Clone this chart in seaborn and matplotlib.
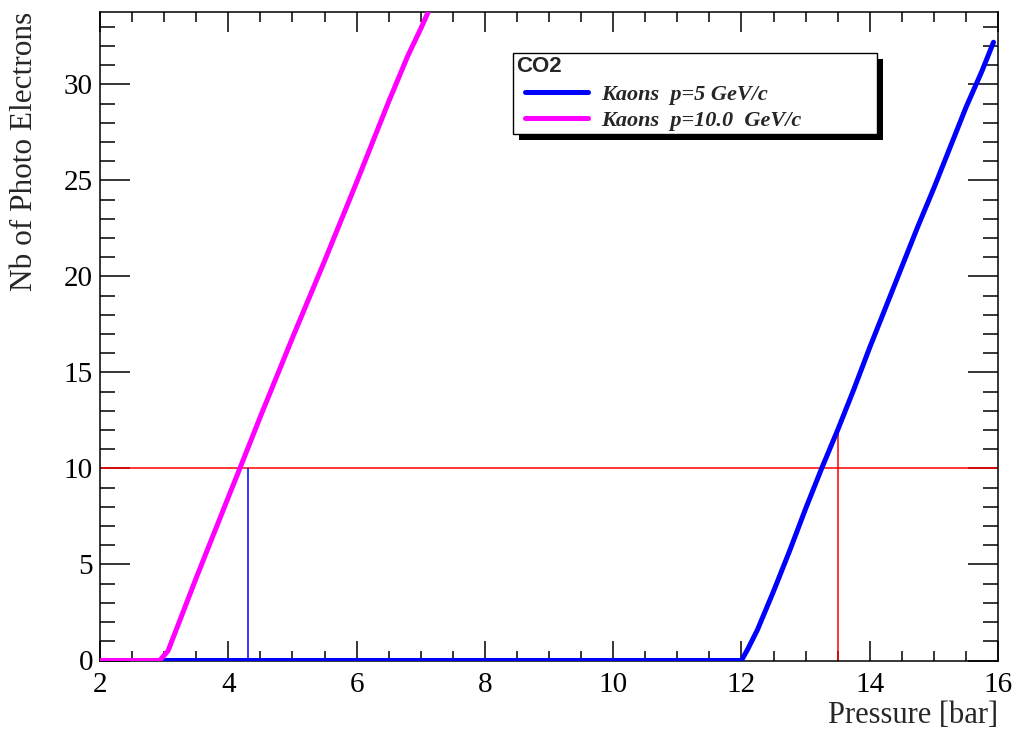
import numpy as np
import pandas as pd
import seaborn as sns
import matplotlib.pyplot as plt
from matplotlib.patches import Rectangle
from matplotlib.lines import Line2D
from matplotlib.legend_handler import HandlerLine2D
from matplotlib.transforms import IdentityTransform
from matplotlib.ticker import MultipleLocator

# curves
blue_p = [2.0, 12.0, 12.1, 12.25, 12.5, 12.75, 13.0, 13.25, 13.5, 13.75, 14.0,
          14.25, 14.5, 14.75, 15.0, 15.25, 15.5, 15.75, 15.93]
blue_n = [0.0, 0.0, 0.6, 1.6, 3.6, 5.7, 7.9, 10.0, 12.0, 14.1, 16.3,
          18.4, 20.5, 22.6, 24.6, 26.7, 28.8, 30.7, 32.2]
magenta_p = [2.0, 2.93, 3.06, 3.2, 3.5, 4.0, 4.18, 4.5, 5.0, 5.5, 6.0, 6.5, 6.8, 7.0, 7.12]
magenta_n = [0.0, 0.0, 0.5, 1.7, 4.3, 8.5, 10.0, 12.7, 16.8, 20.8, 24.9, 29.1, 31.5, 32.9, 33.8]

labels = ['Kaons  p=5 GeV/c', 'Kaons  p=10.0  GeV/c']
legend_title = 'CO2'

# threshold line and where the curves cross it
threshold = 10
mark_p = [4.3, 13.5]
mark_top = [10, 12]
mark_colors = ['#0000ff', '#ff0000']

df_blue = pd.DataFrame({'Pressure': blue_p, 'Npe': blue_n})
df_mag = pd.DataFrame({'Pressure': magenta_p, 'Npe': magenta_n})

sns.set_style('ticks')
plt.rcParams['font.family'] = ['Liberation Serif', 'DejaVu Serif']

fig = plt.figure(figsize=(10.16, 7.29), dpi=100)
ax = fig.add_axes([100 / 1016, 68.5 / 729, 898 / 1016, 649 / 729])

sns.lineplot(x='Pressure', y='Npe', data=df_blue, color='#0000ff', linewidth=3.6,
             label=labels[0], estimator=None, ax=ax, zorder=3)
sns.lineplot(x='Pressure', y='Npe', data=df_mag, color='#ff00ff', linewidth=3.6,
             label=labels[1], estimator=None, ax=ax, zorder=3)

ax.hlines(threshold, 2, 16, color='#ff0000', linewidth=1.1, zorder=2)
for p, top, c in zip(mark_p, mark_top, mark_colors):
    ax.vlines(p, 0, top, color=c, linewidth=1.1, zorder=2)

ax.set_xlim(2, 16)
ax.set_ylim(0, 33.8)
ax.xaxis.set_major_locator(MultipleLocator(2))
ax.xaxis.set_minor_locator(MultipleLocator(0.5))
ax.yaxis.set_major_locator(MultipleLocator(5))
ax.yaxis.set_minor_locator(MultipleLocator(1))

ax.tick_params(which='both', direction='in', top=True, right=True, width=1.1,
               labelsize=21, colors='black')
ax.tick_params(axis='y', which='major', length=21.6, pad=5)
ax.tick_params(axis='y', which='minor', length=10.8)
ax.tick_params(axis='x', which='major', length=14.4, pad=8)
ax.tick_params(axis='x', which='minor', length=7.2)
for s in ax.spines.values():
    s.set_linewidth(1.1)
    s.set_color('black')

ax.set_xlabel('Pressure [bar]', fontsize=22, loc='right')
ax.set_ylabel('Nb of Photo Electrons', fontsize=22.5, loc='top')
ax.xaxis.set_label_coords(1.0, -0.063)
ax.yaxis.set_label_coords(-0.068, 1.0)

leg = ax.legend(loc='upper left', bbox_to_anchor=(513 / 1016, (729 - 134) / 729, 364 / 1016, 81 / 729),
                bbox_transform=fig.transFigure, mode='expand', borderaxespad=0,
                title=legend_title, alignment='left',
                title_fontproperties={'family': 'Liberation Sans', 'weight': 'bold', 'size': 16},
                prop={'family': 'Liberation Serif', 'weight': 'bold', 'style': 'italic', 'size': 16},
                handler_map={Line2D: HandlerLine2D(xpad=0.4)},
                handlelength=3.25, handletextpad=0.6, labelspacing=0.25, borderpad=0.12,
                fancybox=False, framealpha=1, edgecolor='black')
leg.get_frame().set_linewidth(1.0)
leg._legend_box.sep = 5.5
for h in leg.legend_handles:
    h.set_linewidth(3.6)

# ROOT style drop shadow behind the legend box
fig.canvas.draw()
bb = leg.get_frame().get_window_extent()
ax.add_patch(Rectangle((bb.x0 + 6, bb.y0 - 6), bb.width, bb.height, transform=IdentityTransform(),
                       facecolor='black', edgecolor='none', zorder=4.5, clip_on=False))

fig.savefig('out.png', dpi=100)
